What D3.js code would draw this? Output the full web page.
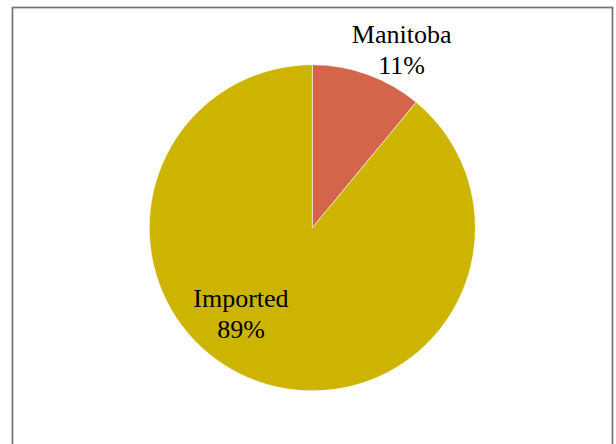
<!DOCTYPE html>
<html>
<head>
<meta charset="utf-8">
<script src="https://cdn.jsdelivr.net/npm/d3@7"></script>
<style>
  html, body { margin: 0; padding: 0; background: #fff; }
  svg { display: block; }
</style>
</head>
<body>
<svg id="chart" width="616" height="444"></svg>
<script>
// Source of supply, share of total
const categories = ["Manitoba", "Imported"];
const shares = [11, 89];
const sliceColors = ["#D4654B", "#CDB400"];

const width = 616, height = 444;
const cx = 312.3, cy = 227.8, radius = 163;

const svg = d3.select("#chart");

// chart frame
svg.append("rect")
  .attr("x", 12.5).attr("y", 7.5)
  .attr("width", 600).attr("height", 450)
  .attr("fill", "#fff")
  .attr("stroke", "#767676")
  .attr("stroke-width", 1.75);

const pie = d3.pie().sort(null).value(d => d)(shares);
const arc = d3.arc().innerRadius(0).outerRadius(radius);

const g = svg.append("g").attr("transform", `translate(${cx},${cy})`);

g.selectAll("path.slice")
  .data(pie)
  .join("path")
  .attr("class", "slice")
  .attr("d", arc)
  .attr("fill", (d, i) => sliceColors[i])
  .attr("stroke", "#fff")
  .attr("stroke-width", 0.75)
  .attr("stroke-opacity", 0.7);

// label placement: position along each slice's bisector, with a small angular shift
const labelLayout = [
  { radius: 199, angleShift: 0.12 },   // outside end
  { radius: 112, angleShift: 0.345 }   // inside
];

const fontSize = 26;
const lineGap = 31;

pie.forEach((d, i) => {
  const mid = (d.startAngle + d.endAngle) / 2 + labelLayout[i].angleShift;
  const r = labelLayout[i].radius;
  const x = Math.sin(mid) * r;
  const y = -Math.cos(mid) * r;
  const t = g.append("text")
    .attr("text-anchor", "middle")
    .attr("font-family", "'Liberation Serif', 'Times New Roman', serif")
    .attr("font-size", fontSize)
    .attr("fill", "#000");
  t.append("tspan")
    .attr("x", x).attr("y", y - lineGap / 2 + 8.5)
    .text(categories[i]);
  t.append("tspan")
    .attr("x", x).attr("y", y + lineGap / 2 + 8.5)
    .text(d3.format(".0f")(d.data) + "%");
});
</script>
</body>
</html>
